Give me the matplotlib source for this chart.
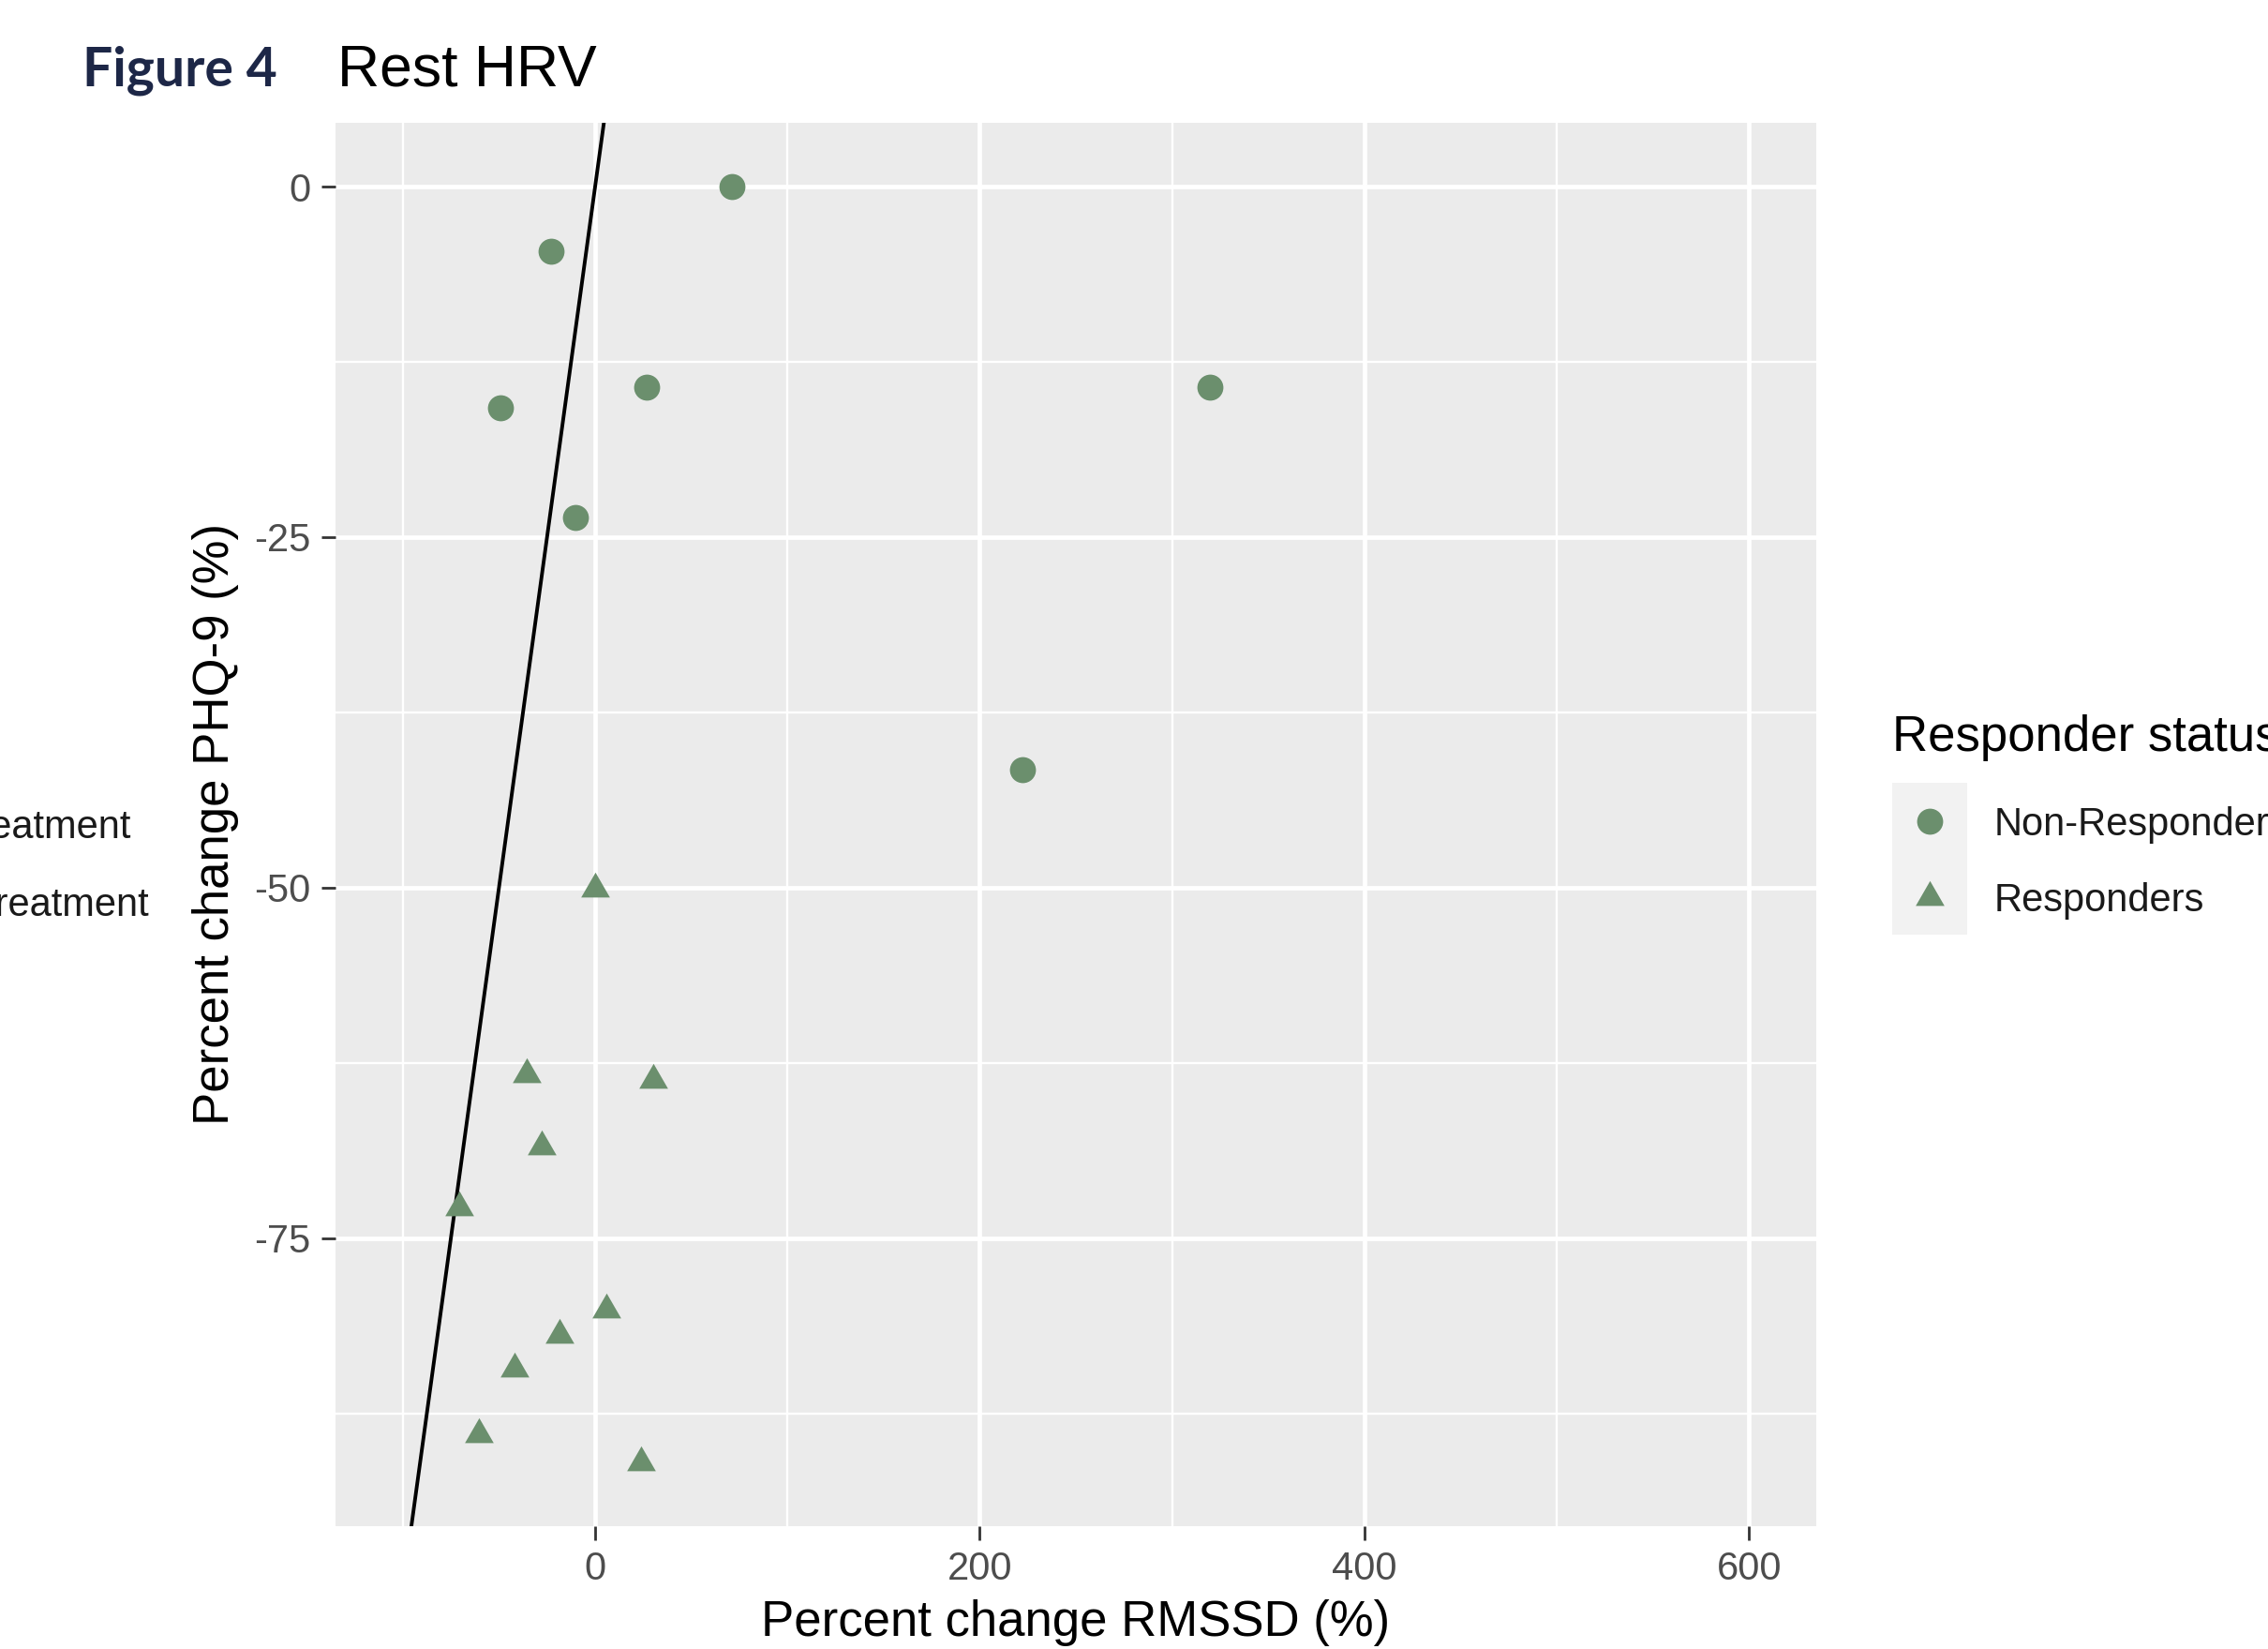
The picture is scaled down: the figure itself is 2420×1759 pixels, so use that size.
import numpy as np
import matplotlib
matplotlib.use("Agg")
import matplotlib.pyplot as plt
from matplotlib.path import Path
from matplotlib.lines import Line2D
from matplotlib.patches import Rectangle

# ---------------------------------------------------------------------------
# data
# ---------------------------------------------------------------------------
nonresp_x = [71, -23, -49, 27, -10, 319.5, 222]
nonresp_y = [0, -4.6, -15.8, -14.3, -23.6, -14.3, -41.6]
resp_x = [0, -35.7, 30.4, -27.6, -70.6, 6.0, -18.4, -41.9, -60.6, 23.9]
resp_y = [-50.1, -63.3, -63.7, -68.5, -72.8, -80.1, -81.9, -84.3, -89.0, -91.0]

x_limits = (-100, 600)
x_ticks = [0, 200, 400, 600]
x_minor = [-100, 100, 300, 500]
y_ticks = [0, -25, -50, -75]
y_tick_labels = ["0", "-25", "-50", "-75"]
y_minor = [-12.5, -37.5, -62.5, -87.5]

group_labels = ["Non-Responders", "Responders"]
left_labels = ["Pre-treatment", "Post-treatment"]   # neighbouring panel legend, cut off

W, H = 2420, 1759
DPI = 100
POINT = "#6b8f6d"
PANEL = "#ebebeb"
CIRCLE_S = 400
TRI_S = 650

plt.rcParams["font.family"] = ["Liberation Sans", "DejaVu Sans"]


def fx(px):
    return px / W


def fy(py):
    return 1 - py / H


# equilateral triangle centred on its centroid (ggplot shape 17)
tri = Path([(0, 0.577), (-0.5, -0.289), (0.5, -0.289), (0, 0.577)],
           [Path.MOVETO, Path.LINETO, Path.LINETO, Path.CLOSEPOLY])

fig = plt.figure(figsize=(W / DPI, H / DPI), dpi=DPI)
ax = fig.add_axes([fx(358), fy(1628), fx(1938 - 358), (1628 - 131) / H])
ax.set_facecolor(PANEL)

# grid like theme_gray
for v in x_minor:
    ax.axvline(v, color="white", lw=1.7, zorder=0.5)
for v in y_minor:
    ax.axhline(v, color="white", lw=1.7, zorder=0.5)
for v in x_ticks:
    ax.axvline(v, color="white", lw=3.4, zorder=0.6)
for v in y_ticks:
    ax.axhline(v, color="white", lw=3.4, zorder=0.6)

ax.scatter(nonresp_x, nonresp_y, s=CIRCLE_S, marker="o", color=POINT,
           linewidths=0, zorder=3)
ax.scatter(resp_x, resp_y, s=TRI_S, marker=tri, color=POINT,
           linewidths=0, zorder=3)
ax.axline((0, 0), slope=1, color="black", lw=2.8, zorder=2)

# ggplot default expansion of 5%
xr = x_limits[1] - x_limits[0]
ax.set_xlim(x_limits[0] - 0.05 * xr, x_limits[1] + 0.05 * xr)
ally = nonresp_y + resp_y
yr = max(ally) - min(ally)
ax.set_ylim(min(ally) - 0.05 * yr, max(ally) + 0.05 * yr)

ax.set_xticks(x_ticks)
ax.set_xticklabels([str(t) for t in x_ticks])
ax.set_yticks(y_ticks)
ax.set_yticklabels(y_tick_labels)
ax.tick_params(axis="both", length=11, width=2, color="#333333",
               labelcolor="#4d4d4d", labelsize=30, pad=8)
for s in ax.spines.values():
    s.set_visible(False)

ax.set_xlabel("Percent change RMSSD (%)", fontsize=38, labelpad=8)
ax.set_ylabel("Percent change PHQ-9 (%)", fontsize=38, labelpad=12)

# titles
fig.text(fx(88), fy(91), "Figure 4", fontsize=41, fontweight="bold",
         color="#1d2747", family=["Lato", "DejaVu Sans"], va="baseline")
fig.text(fx(360), fy(91), "Rest HRV", fontsize=45, color="black",
         va="baseline")

# legend, placed by hand (key background only behind the symbols)
fig.text(fx(2019), fy(787), "Responder status", fontsize=38, va="center")
fig.patches.append(Rectangle((fx(2019), fy(997)), fx(80), (997 - 835) / H,
                             transform=fig.transFigure, facecolor="#f2f2f2",
                             edgecolor="none"))
key_y = [876, 957]
for lab, mk, ms, yy in zip(group_labels, ["o", tri],
                           [CIRCLE_S ** 0.5, TRI_S ** 0.5], key_y):
    fig.lines.append(Line2D([fx(2059)], [fy(yy)], marker=mk, markersize=ms,
                            color=POINT, markeredgewidth=0, linestyle="none",
                            transform=fig.transFigure))
    fig.text(fx(2128), fy(yy + 4), lab, fontsize=30, va="center",
             color="#1a1a1a")

# labels of the neighbouring panel's legend, running off the left edge
for lab, yy in zip(left_labels, [883, 966]):
    fig.text(fx(140) if lab.startswith("Pre") else fx(159), fy(yy), lab,
             fontsize=30, ha="right", va="center", color="#1a1a1a")

fig.savefig("out.png", dpi=DPI)
